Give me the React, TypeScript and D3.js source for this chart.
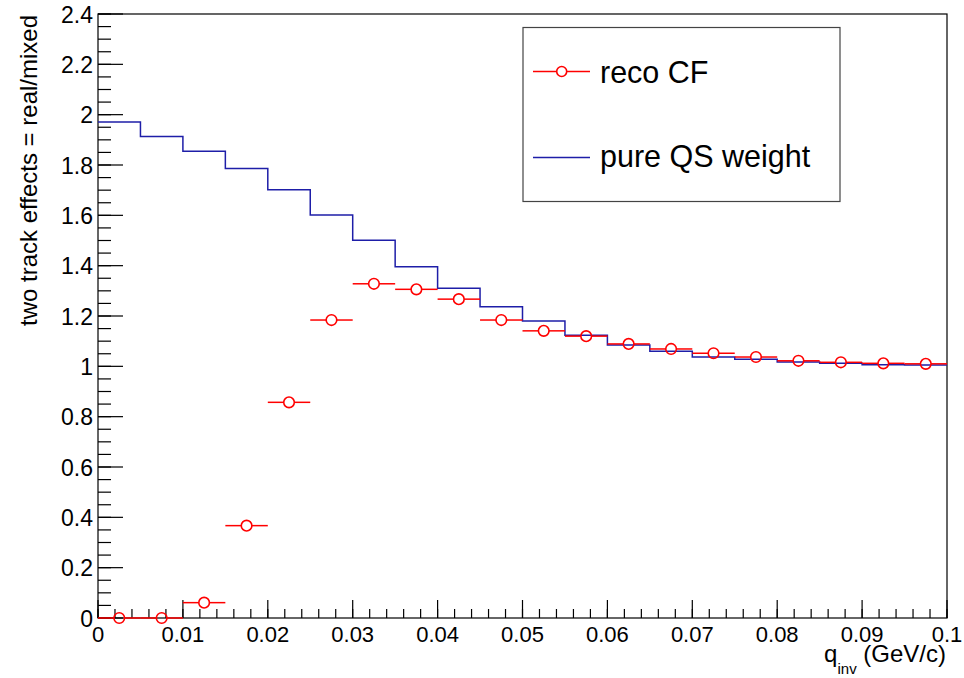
import React from "react";
import * as d3 from "d3";

const binEdgesStart = 0;
const binWidth = 0.005;
const qsWeight = [1.971, 1.913, 1.855, 1.786, 1.702, 1.601, 1.501, 1.396, 1.310, 1.237, 1.180, 1.124, 1.085, 1.060, 1.037, 1.028, 1.017, 1.012, 1.006, 1.005];
const recoCF = [0.0, 0.0, 0.061, 0.367, 0.857, 1.184, 1.328, 1.306, 1.267, 1.184, 1.141, 1.120, 1.089, 1.069, 1.052, 1.037, 1.022, 1.016, 1.012, 1.010];
const xTicks = [0, 0.01, 0.02, 0.03, 0.04, 0.05, 0.06, 0.07, 0.08, 0.09, 0.1];
const xTickLabels = ["0", "0.01", "0.02", "0.03", "0.04", "0.05", "0.06", "0.07", "0.08", "0.09", "0.1"];
const yTicks = [0, 0.2, 0.4, 0.6, 0.8, 1, 1.2, 1.4, 1.6, 1.8, 2, 2.2, 2.4];
const yTickLabels = ["0", "0.2", "0.4", "0.6", "0.8", "1", "1.2", "1.4", "1.6", "1.8", "2", "2.2", "2.4"];
const legendLabels = ["reco CF", "pure QS weight"];

const W = 964, H = 678;
const L = 98, R = 947, T = 14, B = 618;
const FONT = "'Liberation Sans', Arial, Helvetica, sans-serif";

export default function App() {
  const x = d3.scaleLinear().domain([0, 0.1]).range([L, R]);
  const y = d3.scaleLinear().domain([0, 2.4]).range([B, T]);
  const red = "#ff0000";
  const blue = "#1e1ea8";

  const stepPts: [number, number][] = [];
  qsWeight.forEach((v, i) => {
    const x0 = binEdgesStart + i * binWidth;
    stepPts.push([x(x0), y(v)]);
    stepPts.push([x(x0 + binWidth), y(v)]);
  });
  const stepPath = d3.line()(stepPts) || "";

  const minorX = d3.range(0, 0.1 + 1e-9, 0.002);
  const minorY = d3.range(0, 2.4 + 1e-9, 0.05);
  const r = 5.3;

  return (
    <svg width={W} height={H} style={{ position: "absolute", left: 0, top: 0, background: "#fff" }} fontFamily={FONT}>
      <rect x={0} y={0} width={W} height={H} fill="#fff" />
      <rect x={L} y={T} width={R - L} height={B - T} fill="none" stroke="#000" strokeWidth={1.2} />
      {minorX.map((t, i) => (
        <line key={"mx" + i} x1={x(t)} x2={x(t)} y1={B} y2={B - 9} stroke="#000" strokeWidth={1.2} />
      ))}
      {xTicks.map((t, i) => (
        <line key={"Mx" + i} x1={x(t)} x2={x(t)} y1={B} y2={B - 18} stroke="#000" strokeWidth={1.2} />
      ))}
      {xTicks.map((t, i) => (
        <text key={"lx" + i} x={x(t)} y={642} fontSize={22} textAnchor="middle" fill="#000">{xTickLabels[i]}</text>
      ))}
      {minorY.map((t, i) => (
        <line key={"my" + i} x1={L} x2={L + 13} y1={y(t)} y2={y(t)} stroke="#000" strokeWidth={1.2} />
      ))}
      {yTicks.map((t, i) => (
        <line key={"My" + i} x1={L} x2={L + 25} y1={y(t)} y2={y(t)} stroke="#000" strokeWidth={1.2} />
      ))}
      {yTicks.map((t, i) => (
        <text key={"ly" + i} x={93} y={y(t) + 8.5} fontSize={23} textAnchor="end" fill="#000">{yTickLabels[i]}</text>
      ))}
      <text x={946} y={662} fontSize={24} textAnchor="end" fill="#000">
        q<tspan fontSize={15} dy={12}>inv</tspan><tspan dy={-12}> (GeV/c)</tspan>
      </text>
      <text transform={`translate(37,${T + 1}) rotate(-90)`} fontSize={24} textAnchor="end" fill="#000">two track effects = real/mixed</text>

      <path d={stepPath} fill="none" stroke={blue} strokeWidth={1.5} />

      {recoCF.map((v, i) => {
        const x0 = x(binEdgesStart + i * binWidth);
        const x1 = x(binEdgesStart + (i + 1) * binWidth);
        const cx = (x0 + x1) / 2;
        const cy = y(v);
        return (
          <g key={"p" + i}>
            <line x1={x0} x2={cx - r} y1={cy} y2={cy} stroke={red} strokeWidth={1.5} />
            <line x1={cx + r} x2={x1} y1={cy} y2={cy} stroke={red} strokeWidth={1.5} />
            <circle cx={cx} cy={cy} r={r} fill="none" stroke={red} strokeWidth={1.6} />
          </g>
        );
      })}

      <rect x={523} y={27.5} width={317} height={174} fill="#fff" stroke="#444" strokeWidth={1.2} />
      <line x1={533} x2={556.5} y1={71.5} y2={71.5} stroke={red} strokeWidth={1.5} />
      <line x1={567} x2={590} y1={71.5} y2={71.5} stroke={red} strokeWidth={1.5} />
      <circle cx={561.7} cy={71.5} r={5} fill="none" stroke={red} strokeWidth={1.6} />
      <text x={600} y={83} fontSize={30.5} fill="#000">{legendLabels[0]}</text>
      <line x1={533} x2={590} y1={157.5} y2={157.5} stroke={blue} strokeWidth={1.5} />
      <text x={600} y={167} fontSize={30.5} fill="#000">{legendLabels[1]}</text>
    </svg>
  );
}
